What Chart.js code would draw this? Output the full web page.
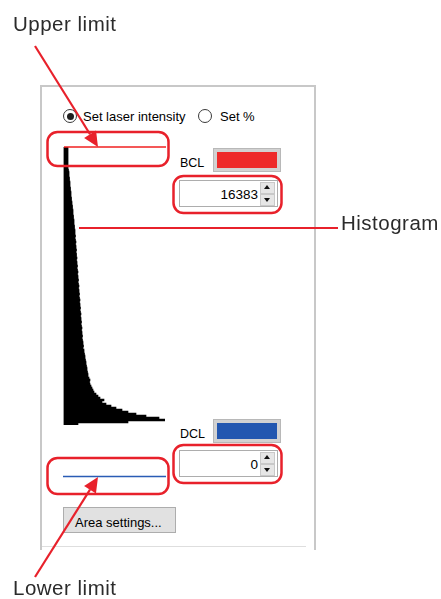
<!DOCTYPE html>
<html>
<head>
<meta charset="utf-8">
<script src="https://cdn.jsdelivr.net/npm/chart.js@4"></script>
<style>
  body { margin: 0; background: #fff; }
  #page { position: relative; width: 441px; height: 599px; overflow: hidden; background: #fff; }
  .ui { position: absolute; font-family: "Liberation Sans", Arial, sans-serif; font-size: 13px; line-height: 13px; color: #000; white-space: nowrap; }
  .note { position: absolute; font-family: "Liberation Sans", Arial, sans-serif; font-size: 20.5px; line-height: 20.5px; letter-spacing: 0.5px; color: #2b2b2b; white-space: nowrap; }
  .radio { position: absolute; width: 12px; height: 12px; border: 1px solid #3a3a3a; border-radius: 50%; background: #fff; }
  .radio.on::after { content: ""; position: absolute; left: 2.5px; top: 2.5px; width: 7px; height: 7px; border-radius: 50%; background: #1e1e1e; }
  .swatch { position: absolute; width: 60px; height: 16px; border: 3px solid #d2d2d2; outline: 1px solid #b8b8b8; }
  .spin { position: absolute; width: 97px; height: 25px; border: 1px solid #adadad; background: #fff; }
  .spin .val { position: absolute; right: 19px; top: 7px; font-family: "Liberation Sans", Arial, sans-serif; font-size: 13.5px; line-height: 13.5px; }
  .spin .btn { position: absolute; right: 2px; width: 13px; height: 10px; background: #e6e6e6; border: 1px solid #c9c9c9; }
  .spin .up { top: 1px; }
  .spin .dn { top: 13px; }
  .spin .up::after { content: ""; position: absolute; left: 3px; top: 2px; border-left: 3.5px solid transparent; border-right: 3.5px solid transparent; border-bottom: 4px solid #111; }
  .spin .dn::after { content: ""; position: absolute; left: 3px; top: 3px; border-left: 3.5px solid transparent; border-right: 3.5px solid transparent; border-top: 4px solid #111; }
  #histBox { position: absolute; left: 54px; top: 140px; width: 120px; height: 290px; }
  #overlay { position: absolute; left: 0; top: 0; pointer-events: none; }
</style>
</head>
<body>
<div id="page">
  <!-- panel frame -->
  <div style="position:absolute;left:40px;top:85px;width:272px;height:463px;border:2px solid #c8c8c8;border-bottom:none;"></div>
  <div style="position:absolute;left:42px;top:546px;width:264px;height:1px;background:#dedede;"></div>

  <div class="radio on" style="left:63px;top:109px;"></div>
  <div class="ui" style="left:83px;top:110px;">Set laser intensity</div>
  <div class="radio" style="left:198px;top:109px;"></div>
  <div class="ui" style="left:220px;top:110px;">Set %</div>

  <div class="ui" id="bclLabel" style="left:180px;top:157px;font-size:12.5px;"></div>
  <div class="swatch" id="bclSwatch" style="left:214px;top:149px;"></div>
  <div class="spin" style="left:179px;top:180px;"><span class="val" id="bclValue"></span><div class="btn up"></div><div class="btn dn"></div></div>

  <div class="ui" id="dclLabel" style="left:180px;top:428px;font-size:12.5px;"></div>
  <div class="swatch" id="dclSwatch" style="left:214px;top:420px;"></div>
  <div class="spin" style="left:179px;top:450px;"><span class="val" id="dclValue"></span><div class="btn up"></div><div class="btn dn"></div></div>

  <div style="position:absolute;left:63px;top:507px;width:111px;height:24px;background:#e1e1e1;border:1px solid #adadad;"></div>
  <div class="ui" style="left:75px;top:516px;">Area settings...</div>

  <div id="histBox"><canvas id="hist"></canvas></div>

  <svg id="overlay" width="441" height="599"></svg>

  <div class="note" style="left:13px;top:14px;">Upper limit</div>
  <div class="note" style="left:341px;top:213px;">Histogram</div>
  <div class="note" style="left:13px;top:578px;">Lower limit</div>
</div>

<script>
// DATA
// histogram counts per bin, top bin = brightest level (pixel-ish units)
const histCounts = [
  4, 4, 4, 4, 4, 4, 4, 4, 4, 4,
  4, 4.5, 5, 5, 5, 5.5, 5.5, 6, 6, 6,
  6.5, 6.5, 7, 7, 7, 7.5, 7.5, 8, 8, 8.5,
  8.5, 9, 9, 9, 9.5, 9.5, 10, 10, 10, 10.5,
  10.5, 11, 11, 11, 11.5, 11, 11.5, 12, 11.5, 12,
  12, 12.5, 12, 12.5, 12.5, 13, 12.5, 13, 13, 13.5,
  13, 13.5, 14, 13.5, 14, 14, 14.5, 14, 14.5, 15,
  14.5, 15, 15, 15.5, 15, 15.5, 16, 15.5, 16, 16,
  16.5, 16, 16.5, 17, 16.5, 17, 17, 17.5, 17, 17.5,
  18, 17.5, 18, 18, 18.5, 18, 18.5, 19, 19, 19.5,
  19, 20, 20, 20.5, 21, 21, 21.5, 22, 22, 22.5,
  23, 23, 23.5, 24, 24, 25, 26, 25.5, 26, 27,
  28, 29, 30, 32, 34, 36, 40, 38, 42, 47,
  52, 58, 64, 72, 82, 95, 101, 64, 14
];
const countMax = 101;
const levelMax = 16383;
const limitNames = ['BCL', 'DCL'];
const limitValues = [16383, 0];
const limitColors = ['#ee2a2a', '#2357b0'];

const binLabels = histCounts.map((_, i) => String(Math.round(levelMax - i * levelMax / (histCounts.length - 1))));

// FILL WIDGETS
document.getElementById('bclLabel').textContent = limitNames[0];
document.getElementById('dclLabel').textContent = limitNames[1];
document.getElementById('bclValue').textContent = limitValues[0];
document.getElementById('dclValue').textContent = limitValues[1];
document.getElementById('bclSwatch').style.background = limitColors[0];
document.getElementById('dclSwatch').style.background = limitColors[1];

// left axis line of histogram
const axisLine = {
  id: 'axisLine',
  afterDatasetsDraw(chart) {
    const a = chart.chartArea, ctx = chart.ctx;
    ctx.save();
    ctx.strokeStyle = '#9a9a9a';
    ctx.lineWidth = 1;
    ctx.beginPath();
    ctx.moveTo(a.left - 0.5, a.top);
    ctx.lineTo(a.left - 0.5, a.bottom);
    ctx.stroke();
    ctx.restore();
  }
};

new Chart(document.getElementById('hist'), {
  type: 'bar',
  data: {
    labels: binLabels,
    datasets: [{
      data: histCounts,
      backgroundColor: '#000',
      borderWidth: 0,
      barPercentage: 1,
      categoryPercentage: 1
    }]
  },
  options: {
    indexAxis: 'y',
    responsive: true,
    maintainAspectRatio: false,
    animation: false,
    layout: { padding: { left: 10, right: 9, top: 7, bottom: 5 } },
    scales: {
      x: { type: 'linear', min: 0, max: countMax, display: false },
      y: { display: false }
    },
    plugins: { legend: { display: false }, tooltip: { enabled: false } }
  },
  plugins: [axisLine]
});

// ANNOTATIONS (svg)
const svg = document.getElementById('overlay');
const NS = 'http://www.w3.org/2000/svg';
function add(tag, attrs) {
  const el = document.createElementNS(NS, tag);
  for (const k in attrs) el.setAttribute(k, attrs[k]);
  svg.appendChild(el);
  return el;
}
const RED = '#e8212b';
function box(x, y, w, h) {
  add('rect', { x, y, width: w, height: h, rx: 10, ry: 10, fill: 'none', stroke: RED, 'stroke-width': 2.5 });
}
function arrow(x1, y1, x2, y2) {
  const dx = x2 - x1, dy = y2 - y1, len = Math.hypot(dx, dy);
  const ux = dx / len, uy = dy / len, L = 15, W = 7;
  const bx = x2 - ux * L, by = y2 - uy * L;
  add('line', { x1, y1, x2: bx, y2: by, stroke: RED, 'stroke-width': 2.2 });
  add('polygon', { points: `${x2},${y2} ${bx - uy * W},${by + ux * W} ${bx + uy * W},${by - ux * W}`, fill: RED });
}

// limit lines
add('line', { x1: 64, y1: 147, x2: 166, y2: 147, stroke: '#f02020', 'stroke-width': 1.5 });
add('line', { x1: 63, y1: 476.5, x2: 166, y2: 476.5, stroke: '#2a5cb5', 'stroke-width': 1.3 });

box(47.5, 132, 121, 34);
box(173.5, 176, 108, 37);
box(173.5, 445, 108, 38);
box(47.5, 458, 121, 36);

add('line', { x1: 79, y1: 228, x2: 338, y2: 228, stroke: RED, 'stroke-width': 2.2 });
arrow(35, 46, 98, 147);
arrow(35, 577, 98, 477);
</script>
</body>
</html>
